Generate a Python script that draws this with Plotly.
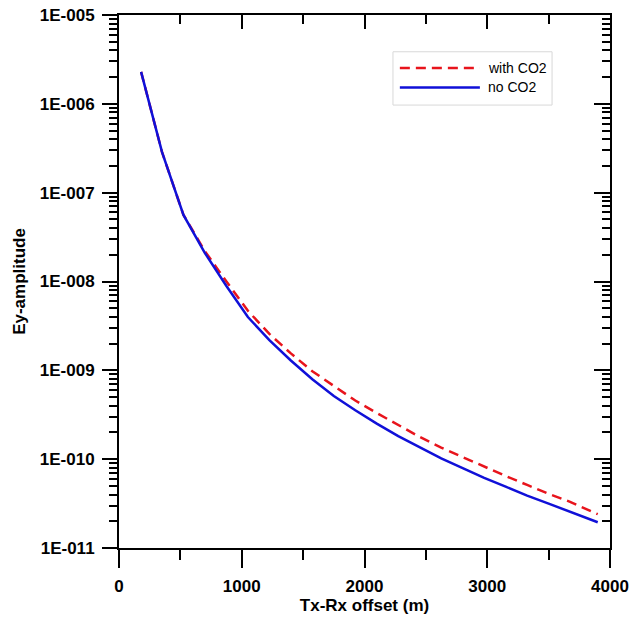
import plotly.graph_objects as go

# Data
offset_m = [180, 350, 525, 700, 875, 1050, 1225, 1400, 1575, 1750, 1925,
            2100, 2275, 2450, 2625, 2800, 2975, 3150, 3325, 3500, 3675, 3900]
ey_with_co2 = [2.29e-6, 2.88e-7, 5.62e-8, 2.19e-8, 1.00e-8, 4.68e-9, 2.57e-9,
               1.55e-9, 9.77e-10, 6.61e-10, 4.57e-10, 3.31e-10, 2.40e-10,
               1.78e-10, 1.35e-10, 1.05e-10, 8.13e-11, 6.46e-11, 5.13e-11,
               4.07e-11, 3.31e-11, 2.40e-11]
ey_no_co2 = [2.29e-6, 2.88e-7, 5.62e-8, 2.09e-8, 8.91e-9, 3.98e-9, 2.19e-9,
             1.29e-9, 7.94e-10, 5.13e-10, 3.55e-10, 2.51e-10, 1.82e-10,
             1.35e-10, 1.02e-10, 7.94e-11, 6.17e-11, 4.90e-11, 3.89e-11,
             3.16e-11, 2.57e-11, 1.95e-11]
series_names = ["with CO2", "no CO2"]
series_colors = ["#e8141c", "#1010d8"]
series_dash = ["10px,6px", "solid"]

y_tick_vals = [1e-11, 1e-10, 1e-9, 1e-8, 1e-7, 1e-6, 1e-5]
y_tick_text = ["1E-011", "1E-010", "1E-009", "1E-008", "1E-007", "1E-006", "1E-005"]
x_tick_vals = [0, 1000, 2000, 3000, 4000]
x_tick_text = ["0", "1000", "2000", "3000", "4000"]
x_minor_vals = [500, 1500, 2500, 3500]

y_minor_vals = [m * 10.0 ** e for e in range(-11, -5) for m in range(2, 10)]

FONT = "Liberation Sans, Arial, sans-serif"

fig = go.Figure()
for yv, nm, col, ds in zip([ey_with_co2, ey_no_co2], series_names, series_colors, series_dash):
    fig.add_trace(go.Scatter(x=offset_m, y=yv, mode="lines", name=nm, showlegend=False,
                             line=dict(color=col, width=2.5, dash=ds)))
# invisible carrier so the mirrored (top/right) axes get drawn
fig.add_trace(go.Scatter(x=offset_m[:1], y=ey_no_co2[:1], xaxis="x2", yaxis="y2",
                         mode="markers", marker=dict(opacity=0), showlegend=False,
                         hoverinfo="skip"))

# legend drawn by hand (box, samples and labels in paper coordinates)
fig.add_shape(type="rect", xref="paper", yref="paper", x0=0.558, x1=0.882,
              y0=0.831, y1=0.931, line=dict(color="#d8d8d8", width=1),
              fillcolor="white", layer="above")
for i, (nm, col, ds) in enumerate(zip(series_names, series_colors, series_dash)):
    yy = 0.9006 - i * 0.0366
    fig.add_shape(type="line", xref="paper", yref="paper", x0=0.572, x1=0.735,
                  y0=yy, y1=yy, line=dict(color=col, width=2.5, dash=ds), layer="above")
    fig.add_annotation(xref="paper", yref="paper", x=0.748, y=yy, text=nm,
                       showarrow=False, xanchor="left", yanchor="middle",
                       font=dict(size=14, family=FONT, color="black"))

common_x = dict(range=[0, 4000], showgrid=False, zeroline=False, automargin=False,
                linecolor="black", linewidth=2, tickcolor="black", tickwidth=2,
                tickmode="array", tickvals=x_tick_vals)
common_y = dict(type="log", range=[-11, -5], showgrid=False, zeroline=False,
                automargin=False,
                linecolor="black", linewidth=2, tickcolor="black", tickwidth=2,
                tickmode="array", tickvals=y_tick_vals)

fig.update_layout(
    width=631, height=622,
    margin=dict(l=119, r=21, t=15, b=74),
    paper_bgcolor="white", plot_bgcolor="white",
    font=dict(family=FONT, color="black"),
    xaxis=dict(**common_x, ticks="outside", ticklen=18, ticktext=x_tick_text,
               showline=True, ticklabeloverflow="allow",
               tickfont=dict(size=17, family=FONT, weight="bold"),
               ticklabelstandoff=4,
               minor=dict(tickmode="array", tickvals=x_minor_vals, ticks="outside",
                          ticklen=10, tickwidth=2, tickcolor="black"),
               title=dict(text="<b>Tx-Rx offset (m)</b>", font=dict(size=17, family=FONT),
                          standoff=4)),
    yaxis=dict(**common_y, ticks="outside", ticklen=15, ticktext=y_tick_text,
               showline=True, ticklabeloverflow="allow",
               tickfont=dict(size=17, family=FONT, weight="bold"),
               ticklabelstandoff=4,
               minor=dict(tickmode="array", tickvals=y_minor_vals, ticks="outside",
                          ticklen=8, tickwidth=2, tickcolor="black"),
               title=dict(text="<b>Ey-amplitude</b>", font=dict(size=17, family=FONT),
                          standoff=10)),
    xaxis2=dict(**common_x, overlaying="x", side="top", ticks="inside", ticklen=14,
                showline=True, showticklabels=False,
                minor=dict(tickmode="array", tickvals=x_minor_vals, ticks="inside",
                           ticklen=9, tickwidth=2, tickcolor="black")),
    yaxis2=dict(**common_y, overlaying="y", side="right", ticks="inside", ticklen=16,
                showline=True, showticklabels=False,
                minor=dict(tickmode="array", tickvals=y_minor_vals, ticks="inside",
                           ticklen=8, tickwidth=2, tickcolor="black")),
    showlegend=False,
)

fig.write_html("out.html", config={"displayModeBar": False},
               post_script="document.body.style.margin='0';document.body.style.overflow='hidden';")
